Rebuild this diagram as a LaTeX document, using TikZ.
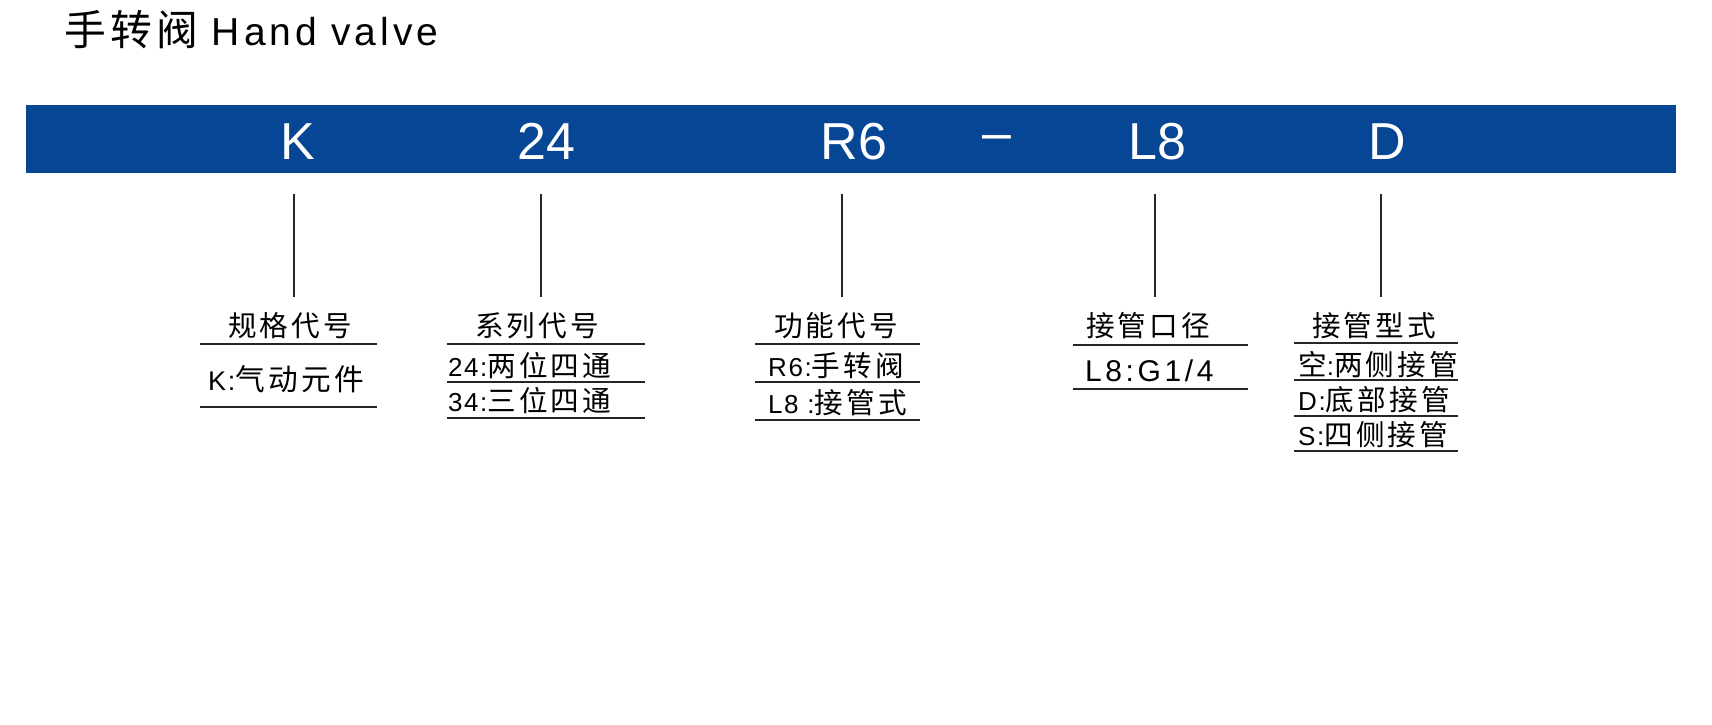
\documentclass[tikz,border=0pt]{standalone}
\usepackage{fontspec}
\setmainfont{Liberation Sans}[LetterSpace=6]
\newfontfamily\codefont{Liberation Sans}
\newfontfamily\widefont{Liberation Sans}[LetterSpace=12]
\newfontfamily\titlefont{Liberation Sans}[LetterSpace=10]
\newfontfamily\cjk{Noto Sans CJK SC}[LetterSpace=11,Scale=1.1]
\definecolor{bannerblue}{RGB}{6,70,148}

\begin{document}
\begin{tikzpicture}[x=1pt,y=-1pt,
  code/.style={text=white,font=\codefont\fontsize{52}{52}\selectfont,anchor=base,inner sep=0pt},
  head/.style={font=\cjk\fontsize{26}{26}\selectfont,anchor=base,inner sep=0pt},
  item/.style={font=\fontsize{26}{26}\selectfont,anchor=base west,inner sep=0pt},
  rule/.style={line width=1.6pt,black!85},
  lead/.style={line width=1.4pt,black!85,shorten >=15pt}]
  \useasboundingbox[fill=white] (0,0) rectangle (1712,724);

  % title
  \node[anchor=base west,inner sep=0pt,font=\fontsize{39}{39}\selectfont] (title) at (64,45) {{\cjk\fontsize{38}{38}\selectfont 手转阀} {\titlefont Hand valve}};

  % code banner
  \fill[bannerblue] (26,105) rectangle (1676,173);
  \node[code] (k) at (298,159) {K};
  \node[code] (ser) at (546,159) {24};
  \node[code] (fun) at (854,159) {R6};
  \node[code] (sep) at (997,150) {–};
  \node[code] (size) at (1157,159) {L8};
  \node[code] (conn) at (1387,159) {D};

  % headings
  \node[head] (hk) at (290,336) {规格代号};
  \node[head] (hser) at (537,336) {系列代号};
  \node[head] (hfun) at (836,336) {功能代号};
  \node[head] (hsize) at (1148,336) {接管口径};
  \node[head] (hconn) at (1374,336) {接管型式};

  % leaders
  \coordinate (lk) at (294,194);
  \coordinate (lser) at (541,194);
  \coordinate (lfun) at (842,194);
  \coordinate (lsize) at (1155,194);
  \coordinate (lconn) at (1381,194);
  \draw[lead] (lk) -- (lk |- hk.north);
  \draw[lead] (lser) -- (lser |- hser.north);
  \draw[lead] (lfun) -- (lfun |- hfun.north);
  \draw[lead] (lsize) -- (lsize |- hsize.north);
  \draw[lead] (lconn) -- (lconn |- hconn.north);

  % spec type
  \draw[rule] (200,344) -- (377,344);
  \node[item,font=\fontsize{27}{27}\selectfont] (k1) at (208,390) {K:{\cjk 气动元件}};
  \draw[rule] (200,407) -- (377,407);

  % series
  \draw[rule] (447,344) -- (645,344);
  \node[item] (ser1) at (448,376) {24:{\cjk 两位四通}};
  \draw[rule] (447,382) -- (645,382);
  \node[item] (ser2) at (448,411) {34:{\cjk 三位四通}};
  \draw[rule] (447,418) -- (645,418);

  % function
  \draw[rule] (755,344) -- (920,344);
  \node[item] (fun1) at (768,376) {R6:{\cjk 手转阀}};
  \draw[rule] (755,382) -- (920,382);
  \node[item] (fun2) at (768,413) {L8 :{\cjk 接管式}};
  \draw[rule] (755,420) -- (920,420);

  % port size
  \draw[rule] (1073,345) -- (1248,345);
  \node[item,font=\widefont\fontsize{30}{30}\selectfont] (size1) at (1085,381) {L8:G1/4};
  \draw[rule] (1073,389) -- (1248,389);

  % connection type
  \draw[rule] (1294,343) -- (1458,343);
  \node[item] (conn1) at (1298,375) {{\cjk 空}:{\cjk 两侧接管}};
  \draw[rule] (1294,380) -- (1458,380);
  \node[item] (conn2) at (1298,410) {D:{\cjk 底部接管}};
  \draw[rule] (1294,416) -- (1458,416);
  \node[item] (conn3) at (1298,445) {S:{\cjk 四侧接管}};
  \draw[rule] (1294,451) -- (1458,451);
\end{tikzpicture}
\end{document}
